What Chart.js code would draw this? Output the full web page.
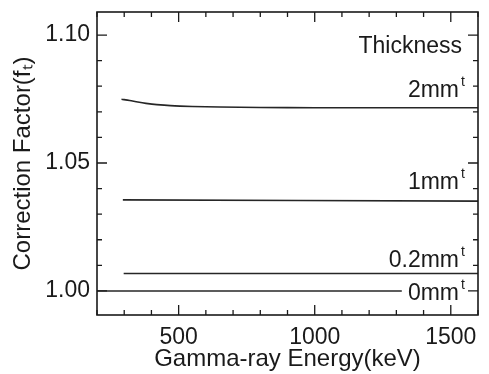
<!DOCTYPE html>
<html>
<head>
<meta charset="utf-8">
<script src="https://cdn.jsdelivr.net/npm/chart.js@4"></script>
<style>
  html, body { margin: 0; padding: 0; background: #fff; }
</style>
</head>
<body>
<canvas id="chart" width="489" height="374"></canvas>
<script>
// Values (energy in keV, correction factor f_t)
const energy2mm = [290, 320, 350, 380, 420, 470, 550, 650, 800, 1000, 1200, 1400, 1600];
const factor2mm = [1.0749, 1.0744, 1.0738, 1.0733, 1.0728, 1.0724, 1.0721, 1.0719, 1.0717, 1.0716, 1.0716, 1.0716, 1.0716];
const energy1mm = [295, 1600];
const factor1mm = [1.0356, 1.0351];
const energy02mm = [298, 1600];
const factor02mm = [1.0068, 1.0068];
const energy0mm = [200, 1320];
const factor0mm = [1.0000, 1.0000];

const thicknessLabels = ["2mm", "1mm", "0.2mm", "0mm"];
const xMajorTicks = [500, 1000, 1500];
const yMajorTicks = [1.00, 1.05, 1.10];
const xMinorStep = 100;
const yMinorStep = 0.01;

const FONT = "'Liberation Sans', Arial, sans-serif";
const INK = "#1a1a1a";

function toPoints(xs, ys) {
  return xs.map((x, i) => ({ x: x, y: ys[i] }));
}

function lineSet(label, xs, ys) {
  return {
    label: label,
    data: toPoints(xs, ys),
    showLine: true,
    borderColor: "#262626",
    borderWidth: 1.6,
    pointRadius: 0,
    tension: 0.3,
  };
}

function stepTicks(min, max, step) {
  const out = [];
  const n0 = Math.ceil(min / step - 1e-6);
  const n1 = Math.floor(max / step + 1e-6);
  for (let n = n0; n <= n1; n++) {
    out.push({ value: Math.round(n * step * 1e6) / 1e6 });
  }
  return out;
}

function isMajor(list, v) {
  return list.some((m) => Math.abs(m - v) < 1e-6);
}

// Frame with inward ticks on all four sides
const frameTicks = {
  id: "frameTicks",
  afterDraw(chart) {
    const { ctx, chartArea: a, scales } = chart;
    const x = scales.x;
    const y = scales.y;
    ctx.save();
    ctx.strokeStyle = INK;
    ctx.lineWidth = 1.6;
    ctx.strokeRect(a.left, a.top, a.right - a.left, a.bottom - a.top);
    ctx.lineWidth = 1.3;
    ctx.beginPath();
    x.ticks.forEach((t) => {
      const px = x.getPixelForValue(t.value);
      const len = isMajor(xMajorTicks, t.value) ? 10 : 5;
      ctx.moveTo(px, a.bottom);
      ctx.lineTo(px, a.bottom - len);
      ctx.moveTo(px, a.top);
      ctx.lineTo(px, a.top + len);
    });
    y.ticks.forEach((t) => {
      const py = y.getPixelForValue(t.value);
      const len = isMajor(yMajorTicks, t.value) ? 10 : 5;
      ctx.moveTo(a.left, py);
      ctx.lineTo(a.left + len, py);
      ctx.moveTo(a.right, py);
      ctx.lineTo(a.right - len, py);
    });
    ctx.stroke();
    ctx.restore();
  },
};

// Thickness labels next to the curves
const curveLabels = {
  id: "curveLabels",
  afterDatasetsDraw(chart) {
    const { ctx, chartArea: a } = chart;
    const right = a.right - 19;
    const baselines = [97, 189, 267, 300];
    ctx.save();
    ctx.fillStyle = INK;
    ctx.textBaseline = "alphabetic";
    ctx.font = "23px " + FONT;
    ctx.textAlign = "right";
    ctx.fillText("Thickness", a.right - 16, 53);
    thicknessLabels.forEach((txt, i) => {
      ctx.font = "23px " + FONT;
      ctx.textAlign = "right";
      ctx.fillText(txt, right, baselines[i]);
      ctx.font = "14px " + FONT;
      ctx.textAlign = "left";
      ctx.fillText("t", right + 2, baselines[i] - 11);
    });
    ctx.restore();
  },
};

new Chart(document.getElementById("chart"), {
  type: "scatter",
  data: {
    datasets: [
      lineSet("2mm", energy2mm, factor2mm),
      lineSet("1mm", energy1mm, factor1mm),
      lineSet("0.2mm", energy02mm, factor02mm),
      lineSet("0mm", energy0mm, factor0mm),
    ],
  },
  options: {
    responsive: false,
    animation: false,
    layout: {
      padding: { top: 12, right: 11, left: 0, bottom: 0 },
    },
    plugins: {
      legend: { display: false },
      tooltip: { enabled: false },
    },
    scales: {
      x: {
        type: "linear",
        min: 200,
        max: 1600,
        grid: { display: false, drawTicks: false },
        border: { display: false },
        afterBuildTicks: (scale) => {
          scale.ticks = stepTicks(200, 1600, xMinorStep);
        },
        afterFit: (scale) => {
          scale.height = 59;
          scale.paddingLeft = 0;
          scale.paddingRight = 0;
        },
        ticks: {
          autoSkip: false,
          maxRotation: 0,
          padding: 9,
          color: INK,
          font: { family: FONT, size: 23 },
          callback: (v) => (isMajor(xMajorTicks, v) ? String(v) : ""),
        },
        title: {
          display: true,
          text: "Gamma-ray Energy(keV)",
          color: INK,
          font: { family: FONT, size: 24 },
          padding: { top: 0, bottom: 0 },
        },
      },
      y: {
        type: "linear",
        min: 0.9906,
        max: 1.109,
        grid: { display: false, drawTicks: false },
        border: { display: false },
        afterBuildTicks: (scale) => {
          scale.ticks = stepTicks(0.9906, 1.109, yMinorStep);
        },
        afterFit: (scale) => {
          scale.width = 97;
          scale.paddingTop = 0;
          scale.paddingBottom = 0;
        },
        ticks: {
          autoSkip: false,
          padding: 7,
          color: INK,
          font: { family: FONT, size: 23 },
          callback: (v) => (isMajor(yMajorTicks, v) ? v.toFixed(2) : ""),
        },
        title: {
          display: true,
          text: "Correction Factor(f\u209C)",
          color: INK,
          font: { family: FONT, size: 24 },
          padding: { top: 9, bottom: 0 },
        },
      },
    },
  },
  plugins: [frameTicks, curveLabels],
});
</script>
</body>
</html>
